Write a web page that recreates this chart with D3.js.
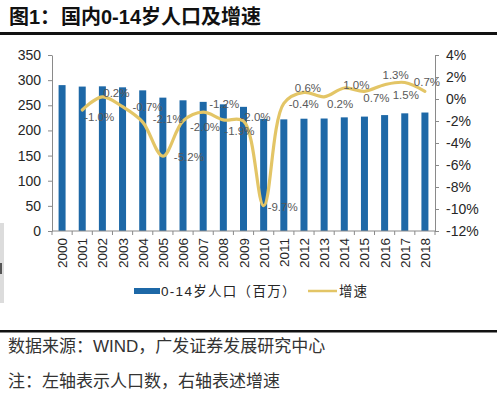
<!DOCTYPE html>
<html>
<head>
<meta charset="utf-8">
<script src="https://cdn.jsdelivr.net/npm/d3@7"></script>
<style>
  body { margin: 0; background: #fff; }
  svg { display: block; }
  text { font-family: "Liberation Sans", Arial, "Noto Sans CJK SC", sans-serif; }
</style>
</head>
<body>
<svg id="chart" width="502" height="395"></svg>
<script>
// Data
const years = ['2000','2001','2002','2003','2004','2005','2006','2007','2008','2009',
               '2010','2011','2012','2013','2014','2015','2016','2017','2018'];
const population = [290.1, 287.2, 287.7, 285.7, 279.7, 265.2, 259.9, 256.8, 251.9, 246.9,
                    222.9, 222.0, 223.3, 223.7, 226.0, 227.5, 230.5, 234.0, 235.6];
const growthYears = years.slice(1);
const growth = [-1.0, 0.2, -0.7, -2.1, -5.2, -2.0, -1.2, -1.9, -2.0,
                -9.7, -0.4, 0.6, 0.2, 1.0, 0.7, 1.3, 1.5, 0.7];
const leftTicks = [0, 50, 100, 150, 200, 250, 300, 350];
const rightTicks = [-12, -10, -8, -6, -4, -2, 0, 2, 4];

// label nudges (px) so the data labels sit where they do in the original
const labelOffsets = [[17,7],[14,-4],[25,0],[25,-3],[26,1],[22,6],[21,-8],[16,11],[12,-4],
                      [19,1],[20,1],[4,-4],[16,7],[12,-3],[12,7],[11,-10],[1,12],[2,-9]];

const svg = d3.select('#chart');
const plotLeft = 52, plotRight = 435, plotTop = 55, plotBottom = 231;

const x = d3.scaleBand().domain(years).range([plotLeft, plotRight]).paddingInner(0);
const yL = d3.scaleLinear().domain([0, 350]).range([plotBottom, plotTop]);
const yR = d3.scaleLinear().domain([-12, 4]).range([plotBottom, plotTop]);

// title
svg.append('text')
  .attr('x', 9).attr('y', 24)
  .style('font-size', '20px').style('font-weight', 'bold')
  .attr('fill', '#111')
  .text('图1：');
svg.append('text')
  .attr('x', 61).attr('y', 24)
  .style('font-size', '20px').style('font-weight', 'bold')
  .attr('fill', '#111')
  .text('国内0-14岁人口及增速');
svg.append('rect').attr('x', 0).attr('y', 32).attr('width', 497).attr('height', 3).attr('fill', '#111');

// little grey strip on the left edge
svg.append('rect').attr('x', 0).attr('y', 223).attr('width', 4).attr('height', 80).attr('fill', '#dcdcdc');
svg.append('rect').attr('x', 0).attr('y', 263).attr('width', 2).attr('height', 11).attr('fill', '#555');

// bars
const bw = 7;
svg.append('g').selectAll('rect')
  .data(years)
  .join('rect')
  .attr('x', (d) => x(d) + x.bandwidth() / 2 - bw / 2)
  .attr('y', (d, i) => yL(population[i]))
  .attr('width', bw)
  .attr('height', (d, i) => plotBottom - yL(population[i]))
  .attr('fill', '#1d68a7');

// left axis
const axL = svg.append('g')
  .attr('transform', `translate(${plotLeft},0)`)
  .call(d3.axisLeft(yL).tickValues(leftTicks).tickSize(4).tickSizeOuter(0).tickPadding(7));
// right axis
const axR = svg.append('g')
  .attr('transform', `translate(${plotRight},0)`)
  .call(d3.axisRight(yR).tickValues(rightTicks).tickFormat((d) => d + '%')
    .tickSize(4).tickSizeOuter(0).tickPadding(7));
[axL, axR].forEach((ax) => {
  ax.selectAll('path, line').attr('stroke', '#8a8a8a');
  ax.selectAll('text').style('font-size', '14px').attr('fill', '#262626');
});

// x axis: line, boundary ticks, rotated labels
const axX = svg.append('g');
axX.append('line').attr('x1', plotLeft).attr('x2', plotRight).attr('y1', plotBottom).attr('y2', plotBottom)
  .attr('stroke', '#8a8a8a');
axX.selectAll('line.tick')
  .data(years.concat(['end']))
  .join('line')
  .attr('class', 'tick')
  .attr('x1', (d) => d === 'end' ? plotRight : x(d))
  .attr('x2', (d) => d === 'end' ? plotRight : x(d))
  .attr('y1', plotBottom).attr('y2', plotBottom + 4)
  .attr('stroke', '#8a8a8a');
axX.selectAll('text')
  .data(years)
  .join('text')
  .attr('transform', (d) => `translate(${x(d) + x.bandwidth() / 2 + 5},${plotBottom + 7}) rotate(-90)`)
  .attr('text-anchor', 'end')
  .style('font-size', '13.5px')
  .attr('fill', '#262626')
  .text((d) => d);

// growth line
const line = d3.line()
  .x((d, i) => x(growthYears[i]) + x.bandwidth() / 2)
  .y((d) => yR(d))
  .curve(d3.curveCatmullRom.alpha(0.5));
svg.append('path')
  .datum(growth)
  .attr('fill', 'none')
  .attr('stroke', '#e3c566')
  .attr('stroke-width', 3.2)
  .attr('stroke-linecap', 'round')
  .attr('d', line);

// data labels
svg.append('g').selectAll('text')
  .data(growth)
  .join('text')
  .attr('x', (d, i) => x(growthYears[i]) + x.bandwidth() / 2 + labelOffsets[i][0])
  .attr('y', (d, i) => yR(d) + labelOffsets[i][1])
  .attr('dy', '0.35em')
  .attr('text-anchor', 'middle')
  .style('font-size', '11.5px')
  .attr('fill', '#595959')
  .text((d) => d.toFixed(1) + '%');

// legend
const lg = svg.append('g');
lg.append('rect').attr('x', 134).attr('y', 288).attr('width', 26).attr('height', 6).attr('fill', '#1d68a7');
lg.append('text').attr('x', 161).attr('y', 291).attr('dy', '0.35em')
  .style('font-size', '13.5px').style('letter-spacing', '1.3px').attr('fill', '#262626')
  .text('0-14岁人口（百万）');
lg.append('line').attr('x1', 308).attr('x2', 337).attr('y1', 291).attr('y2', 291)
  .attr('stroke', '#e3c566').attr('stroke-width', 2.5);
lg.append('text').attr('x', 339).attr('y', 291).attr('dy', '0.35em')
  .style('font-size', '13.5px').style('letter-spacing', '1px').attr('fill', '#262626')
  .text('增速');

// footer
svg.append('rect').attr('x', 0).attr('y', 330).attr('width', 497).attr('height', 2.5).attr('fill', '#111');
svg.append('text').attr('x', 8).attr('y', 352)
  .style('font-size', '17px').attr('fill', '#333')
  .text('数据来源：WIND，广发证券发展研究中心');
svg.append('text').attr('x', 8).attr('y', 387)
  .style('font-size', '17px').attr('fill', '#333')
  .text('注：左轴表示人口数，右轴表述增速');
</script>
</body>
</html>
